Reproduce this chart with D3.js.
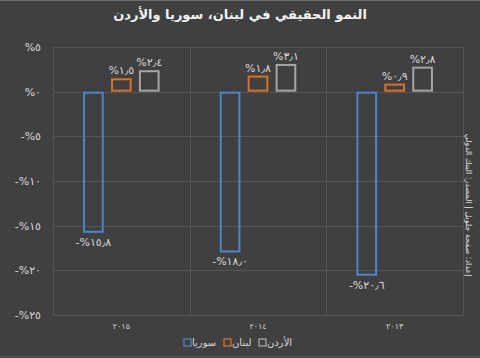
<!DOCTYPE html>
<html><head><meta charset="utf-8">
<script src="https://cdn.jsdelivr.net/npm/d3@7"></script>
<style>
html,body{margin:0;padding:0;background:#404040;}
svg{display:block;font-family:"DejaVu Sans",sans-serif;}
</style></head>
<body>
<script>
const categories = ["2015","2014","2013"];
const categoryLabels = ["٢٠١٥","٢٠١٤","٢٠١٣"];
const seriesNames = ["سوريا","لبنان","الأردن"];
const syria = [-15.8, -18.0, -20.6];
const lebanon = [1.5, 1.8, 0.9];
const jordan = [2.4, 3.1, 2.8];
const syriaLabels = ["-%١٥٫٨","-%١٨٫٠","-%٢٠٫٦"];
const lebanonLabels = ["%١٫٥","%١٫٨","%٠٫٩"];
const jordanLabels = ["%٢٫٤","%٣٫١","%٢٫٨"];
const yTicks = [5,0,-5,-10,-15,-20,-25];
const yTickLabels = ["%٥","%٠","-%٥","-%١٠","-%١٥","-%٢٠","-%٢٥"];
const title = "النمو الحقيقي في لبنان، سوريا والأردن";
const sourceText = "إعداد: صفحة جلوبل | المصدر: البنك الدولي";

const colors = ["#4a86c8","#d4722b","#a5a5a5"];
const seriesValues = [syria, lebanon, jordan];
const seriesLabels = [syriaLabels, lebanonLabels, jordanLabels];

const W = 480, H = 358;
const svg = d3.select("body").append("svg").attr("width", W).attr("height", H);
svg.append("rect").attr("width", W).attr("height", H).attr("fill", "#404040");
svg.append("line").attr("x1",0).attr("x2",W).attr("y1",0.5).attr("y2",0.5).attr("stroke","#6a6a6a");
svg.append("line").attr("x1",0).attr("x2",W).attr("y1",H-1.5).attr("y2",H-1.5).attr("stroke","#5a5a5a");

const pLeft = 53, pRight = 463, pTop = 47, pBottom = 315;
const y = d3.scaleLinear().domain([5,-25]).range([pTop,pBottom]);
const x0 = d3.scaleBand().domain(categories).range([pLeft,pRight]).padding(0);
const gw = x0.bandwidth();
const x1 = d3.scaleBand().domain(seriesNames).range([gw*0.22, gw*0.78]).paddingInner(0.26);

// gridlines
svg.append("g").selectAll("line").data(yTicks).join("line")
  .attr("x1",pLeft).attr("x2",pRight)
  .attr("y1",d=>Math.round(y(d))+0.5).attr("y2",d=>Math.round(y(d))+0.5)
  .attr("stroke","#555555").attr("stroke-width",1);
const vlines = categories.map(c=>x0(c)).concat([pRight]);
svg.append("g").selectAll("line").data(vlines).join("line")
  .attr("x1",d=>Math.round(d)+0.5).attr("x2",d=>Math.round(d)+0.5)
  .attr("y1",pTop).attr("y2",pBottom)
  .attr("stroke","#555555").attr("stroke-width",1);

// y axis labels
svg.append("g").selectAll("text").data(yTicks).join("text")
  .attr("x",41).attr("y",d=>y(d)+4)
  .attr("text-anchor","end").attr("fill","#d9d9d9").attr("font-size",11)
  .attr("direction","ltr").attr("unicode-bidi","bidi-override")
  .text((d,i)=>yTickLabels[i]);

// bars
seriesNames.forEach((s,si)=>{
  const g = svg.append("g");
  categories.forEach((c,ci)=>{
    const v = seriesValues[si][ci];
    const bx = x0(c) + x1(s);
    const bw = x1.bandwidth();
    const y0 = y(0), yv = y(v);
    g.append("rect")
      .attr("x", bx+1).attr("y", Math.min(y0,yv)+1)
      .attr("width", bw-2).attr("height", Math.abs(yv-y0)-2)
      .attr("fill","none").attr("stroke",colors[si]).attr("stroke-width",2);
    g.append("text")
      .attr("x", bx+bw/2)
      .attr("y", v>=0 ? yv-4 : yv+13)
      .attr("text-anchor","middle").attr("fill","#d9d9d9").attr("font-size",11)
      .attr("direction","ltr").attr("unicode-bidi","bidi-override")
      .text(seriesLabels[si][ci]);
  });
});

// x labels
svg.append("g").selectAll("text").data(categories).join("text")
  .attr("x",d=>x0(d)+gw/2).attr("y",329)
  .attr("text-anchor","middle").attr("fill","#d9d9d9").attr("font-size",8)
  .text((d,i)=>categoryLabels[i]);

// title
svg.append("text").attr("x",240).attr("y",19).attr("text-anchor","middle")
  .attr("fill","#f2f2f2").attr("font-size",13).attr("font-weight","bold")
  .text(title);

// legend
const legendPos = [{sq:184, tx:192},{sq:224, tx:232},{sq:259, tx:267}];
seriesNames.forEach((s,si)=>{
  svg.append("rect").attr("x",legendPos[si].sq).attr("y",339)
    .attr("width",7).attr("height",7).attr("fill","none")
    .attr("stroke",colors[si]).attr("stroke-width",1.3);
  svg.append("text").attr("x",legendPos[si].tx).attr("y",346)
    .attr("text-anchor","start").attr("fill","#d9d9d9").attr("font-size",10)
    .text(s);
});

// source (rotated)
svg.append("text").attr("transform","translate(466,205) rotate(90)")
  .attr("text-anchor","middle").attr("fill","#e0e0e0").attr("font-size",8)
  .text(sourceText);
</script>
</body></html>
